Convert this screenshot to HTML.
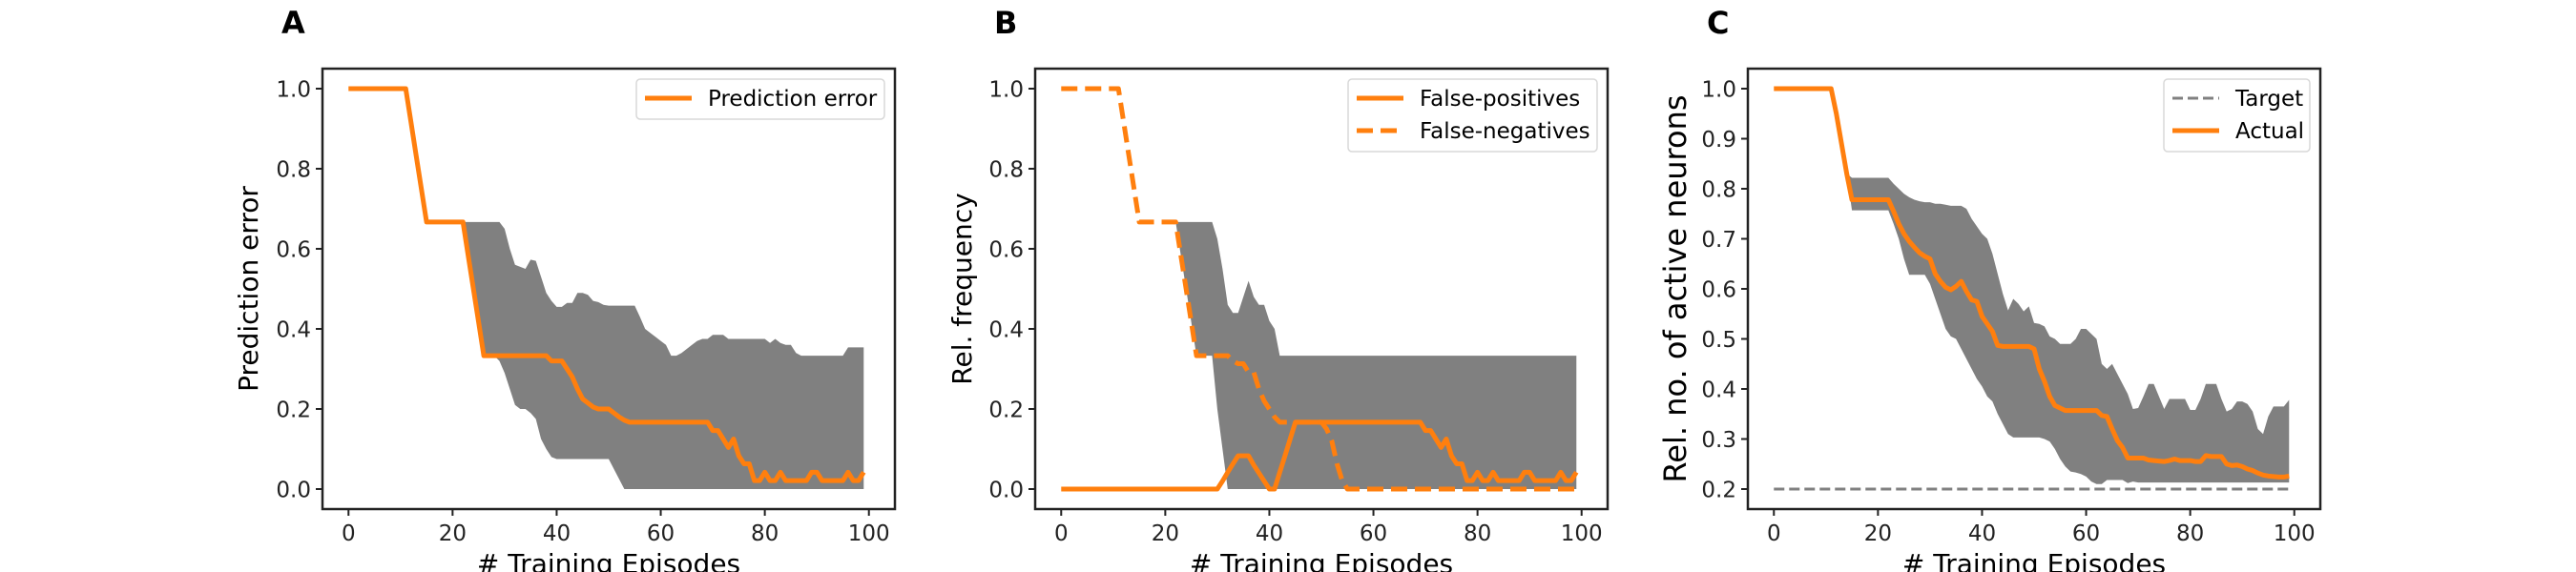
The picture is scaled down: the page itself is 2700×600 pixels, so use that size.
<!DOCTYPE html>
<html><head><meta charset="utf-8">
<style>
html,body{margin:0;padding:0;background:#fff;}
svg{display:block;font-family:"DejaVu Sans","Liberation Sans",sans-serif;}
</style></head>
<body>
<svg id="fig" width="2700" height="600" viewBox="0 0 2700 600" xmlns="http://www.w3.org/2000/svg"></svg>
<script>
const episodes = Array.from({length:100},(_,i)=>i);
const xTicks = [0,20,40,60,80,100];
const yTicksAB = [0.0,0.2,0.4,0.6,0.8,1.0];
const yTicksC = [0.2,0.3,0.4,0.5,0.6,0.7,0.8,0.9,1.0];

const predMean = [1,1,1,1,1,1,1,1,1,1,1,1,.917,.833,.75,.667,.667,.667,.667,.667,.667,.667,.667,.583,.5,.417,.333,.333,.333,.333,.333,.333,.333,.333,.333,.333,.333,.333,.333,.32,.32,.32,.30,.28,.25,.225,.215,.205,.2,.2,.2,.19,.18,.172,.167,.167,.167,.167,.167,.167,.167,.167,.167,.167,.167,.167,.167,.167,.167,.167,.146,.146,.125,.104,.125,.083,.063,.063,.021,.021,.042,.021,.021,.042,.021,.021,.021,.021,.021,.042,.042,.021,.021,.021,.021,.021,.042,.021,.021,.042];
const predUpper = [1,1,1,1,1,1,1,1,1,1,1,1,.917,.833,.75,.667,.667,.667,.667,.667,.667,.667,.667,.667,.667,.667,.667,.667,.667,.667,.65,.6,.56,.555,.55,.573,.57,.53,.49,.47,.455,.455,.465,.465,.49,.49,.485,.47,.467,.46,.458,.458,.458,.458,.458,.458,.43,.40,.39,.38,.37,.36,.333,.333,.34,.35,.36,.37,.375,.375,.385,.385,.385,.375,.375,.375,.375,.375,.375,.375,.375,.365,.375,.365,.36,.36,.34,.333,.333,.333,.333,.333,.333,.333,.333,.333,.354,.354,.354,.354];
const predLower = [1,1,1,1,1,1,1,1,1,1,1,1,.917,.833,.75,.667,.667,.667,.667,.667,.667,.667,.667,.583,.5,.417,.333,.333,.333,.32,.29,.25,.21,.2,.2,.19,.175,.125,.1,.08,.075,.075,.075,.075,.075,.075,.075,.075,.075,.075,.075,.05,.025,0,0,0,0,0,0,0,0,0,0,0,0,0,0,0,0,0,0,0,0,0,0,0,0,0,0,0,0,0,0,0,0,0,0,0,0,0,0,0,0,0,0,0,0,0,0,0];

const fpMean = [0,0,0,0,0,0,0,0,0,0,0,0,0,0,0,0,0,0,0,0,0,0,0,0,0,0,0,0,0,0,0,.02,.042,.063,.083,.083,.083,.06,.04,.02,0,0,.042,.083,.125,.167,.167,.167,.167,.167,.167,.167,.167,.167,.167,.167,.167,.167,.167,.167,.167,.167,.167,.167,.167,.167,.167,.167,.167,.167,.146,.146,.125,.104,.125,.083,.063,.063,.021,.021,.042,.021,.021,.042,.021,.021,.021,.021,.021,.042,.042,.021,.021,.021,.021,.021,.042,.021,.021,.042];
const fnMean = [1,1,1,1,1,1,1,1,1,1,1,1,.917,.833,.75,.667,.667,.667,.667,.667,.667,.667,.667,.583,.5,.417,.333,.333,.333,.333,.333,.333,.333,.32,.313,.313,.292,.292,.25,.22,.2,.18,.167,.167,.167,.167,.167,.167,.167,.167,.167,.15,.12,.063,.021,0,0,0,0,0,0,0,0,0,0,0,0,0,0,0,0,0,0,0,0,0,0,0,0,0,0,0,0,0,0,0,0,0,0,0,0,0,0,0,0,0,0,0,0,0];
const bandUpperB = [1,1,1,1,1,1,1,1,1,1,1,1,.917,.833,.75,.667,.667,.667,.667,.667,.667,.667,.667,.667,.667,.667,.667,.667,.667,.667,.625,.55,.46,.44,.44,.48,.52,.48,.46,.46,.42,.40,.333,.333,.333,.333,.333,.333,.333,.333,.333,.333,.333,.333,.333,.333,.333,.333,.333,.333,.333,.333,.333,.333,.333,.333,.333,.333,.333,.333,.333,.333,.333,.333,.333,.333,.333,.333,.333,.333,.333,.333,.333,.333,.333,.333,.333,.333,.333,.333,.333,.333,.333,.333,.333,.333,.333,.333,.333,.333];
const bandLowerB = [1,1,1,1,1,1,1,1,1,1,1,1,.917,.833,.75,.667,.667,.667,.667,.667,.667,.667,.667,.583,.5,.417,.333,.333,.333,.333,.2,.1,0,0,0,0,0,0,0,0,0,0,0,0,0,0,0,0,0,0,0,0,0,0,0,0,0,0,0,0,0,0,0,0,0,0,0,0,0,0,0,0,0,0,0,0,0,0,0,0,0,0,0,0,0,0,0,0,0,0,0,0,0,0,0,0,0,0,0,0];

const activeMean = [1,1,1,1,1,1,1,1,1,1,1,1,.95,.89,.83,.778,.778,.778,.778,.778,.778,.778,.778,.755,.73,.71,.695,.683,.672,.665,.66,.63,.615,.603,.598,.605,.615,.595,.578,.575,.545,.53,.515,.487,.485,.485,.485,.485,.485,.485,.48,.44,.415,.385,.367,.362,.357,.357,.357,.357,.357,.357,.357,.347,.345,.32,.297,.283,.262,.262,.262,.262,.258,.257,.256,.255,.257,.26,.257,.257,.257,.255,.255,.267,.265,.265,.265,.25,.247,.248,.245,.24,.237,.232,.228,.226,.225,.224,.224,.226];
const activeUpper = [1,1,1,1,1,1,1,1,1,1,1,1,.95,.89,.83,.822,.822,.822,.822,.822,.822,.822,.822,.81,.8,.79,.783,.778,.775,.773,.773,.77,.77,.768,.766,.766,.766,.76,.74,.725,.71,.7,.67,.63,.59,.557,.58,.57,.555,.565,.532,.53,.525,.505,.5,.49,.49,.49,.5,.52,.52,.51,.5,.45,.44,.45,.43,.41,.39,.36,.362,.385,.41,.41,.385,.36,.38,.38,.38,.38,.358,.358,.38,.41,.41,.41,.38,.355,.36,.375,.375,.37,.355,.32,.31,.345,.365,.365,.365,.378];
const activeLower = [1,1,1,1,1,1,1,1,1,1,1,1,.95,.89,.83,.757,.757,.757,.757,.757,.757,.757,.757,.73,.7,.66,.628,.628,.628,.628,.61,.58,.55,.52,.505,.5,.48,.46,.44,.42,.405,.385,.375,.35,.33,.31,.303,.303,.303,.303,.303,.303,.3,.295,.28,.26,.245,.235,.233,.23,.225,.215,.21,.21,.218,.218,.218,.218,.212,.215,.213,.213,.213,.213,.213,.213,.213,.213,.213,.213,.213,.213,.213,.213,.213,.213,.213,.213,.213,.213,.213,.213,.213,.213,.213,.213,.213,.213,.213,.213];
const targetLevel = [0.2];

const NS='http://www.w3.org/2000/svg';
const svg=document.getElementById('fig');
function mk(tag,attrs,parent){const e=document.createElementNS(NS,tag);for(const k in attrs)e.setAttribute(k,attrs[k]);(parent||svg).appendChild(e);return e;}
const ORANGE='#ff7f0e';

function panel(cfg){
  const g=mk('g',{});
  
  
  const L=cfg.left,R=cfg.left+600,T=72,B=534;
  const xs=v=>L+(v+5)/110*600;
  const ys=v=>B-(v-cfg.ymin)/(cfg.ymax-cfg.ymin)*(B-T);
  const lt=mk('text',{x:L-43,y:35,'font-size':32,'font-weight':'bold',fill:'#000'},g);lt.textContent=cfg.letter;
  
  
  cfg.bands.forEach(b=>{
    let d='M'+episodes.map(i=>xs(i)+','+ys(b.upper[i])).join(' L');
    d+=' L'+episodes.slice().reverse().map(i=>xs(i)+','+ys(b.lower[i])).join(' L')+' Z';
    const p=mk('path',{d:d,fill:'#808080',stroke:'none'},g);
    
    
  });
  cfg.lines.forEach(l=>{
    const vals=l.data.length===1?episodes.map(()=>l.data[0]):l.data;
    const pts=episodes.map(i=>xs(i)+','+ys(vals[i])).join(' ');
    const a={points:pts,fill:'none',stroke:l.color,'stroke-width':l.w,'stroke-linejoin':'round'};
    if(l.dash)a['stroke-dasharray']=l.dash;
    const p=mk('polyline',a,g);
    
    
  });
  const fr=mk('rect',{x:L,y:T,width:600,height:B-T,fill:'none',stroke:'#222','stroke-width':2.5},g);
  
  
  xTicks.forEach(t=>{
    mk('line',{x1:xs(t),x2:xs(t),y1:B,y2:B+7,stroke:'#222','stroke-width':2},g);
    const tx=mk('text',{x:xs(t),y:567,'font-size':23,'text-anchor':'middle',fill:'#222'},g);tx.textContent=t;
    
    
  });
  cfg.yticks.forEach(t=>{
    mk('line',{x1:L-7,x2:L,y1:ys(t),y2:ys(t),stroke:'#222','stroke-width':2},g);
    const tx=mk('text',{x:L-12,y:ys(t)+8.5,'font-size':23,'text-anchor':'end',fill:'#222'},g);tx.textContent=t.toFixed(1);
    
    
  });
  const xl=mk('text',{x:L+300,y:601,'font-size':28,'text-anchor':'middle',fill:'#000'},g);xl.textContent='# Training Episodes';
  
  
  const yl=mk('text',{x:0,y:0,'font-size':cfg.ylfs||28,'text-anchor':'middle',fill:'#000',transform:`translate(${cfg.ylx},303) rotate(-90)`},g);yl.textContent=cfg.ylabel;
  
  
  const lg=cfg.legend;
  const lb=mk('rect',{x:lg.x,y:83,width:lg.w,height:lg.items.length===1?42:76,rx:4,fill:'#fff','fill-opacity':0.8,stroke:'#d8d8d8','stroke-width':1.5},g);
  
  
  lg.items.forEach((it,k)=>{
    const yy=103+k*34;
    const a={x1:lg.x+9,x2:lg.x+58,y1:yy,y2:yy,stroke:it.color,'stroke-width':it.w};
    if(it.dash)a['stroke-dasharray']=it.dash;
    mk('line',a,g);
    const tx=mk('text',{x:lg.x+75,y:yy+8,'font-size':23,fill:'#000'},g);tx.textContent=it.label;
    
    
  });
}

panel({name:'panel-a',letter:'A',left:338,ymin:-0.05,ymax:1.05,yticks:yTicksAB,ylabel:'Prediction error',ylx:270,
  bands:[{upper:predUpper,lower:predLower}],
  lines:[{name:'prediction-error-line',data:predMean,color:ORANGE,w:5}],
  legend:{x:667,w:260,items:[{label:'Prediction error',color:ORANGE,w:5}]}});
panel({name:'panel-b',letter:'B',left:1085,ymin:-0.05,ymax:1.05,yticks:yTicksAB,ylabel:'Rel. frequency',ylx:1018,
  bands:[{upper:bandUpperB,lower:bandLowerB}],
  lines:[{name:'false-positives-line',data:fpMean,color:ORANGE,w:5},{name:'false-negatives-line',data:fnMean,color:ORANGE,w:5,dash:'17 8'}],
  legend:{x:1413,w:261,items:[{label:'False-positives',color:ORANGE,w:5},{label:'False-negatives',color:ORANGE,w:5,dash:'17 8'}]}});
panel({name:'panel-c',letter:'C',left:1832,ymin:0.16,ymax:1.04,yticks:yTicksC,ylabel:'Rel. no. of active neurons',ylx:1767,ylfs:32,
  bands:[{upper:activeUpper,lower:activeLower}],
  lines:[{name:'target-line',data:targetLevel,color:'#808080',w:3,dash:'11 5'},{name:'actual-line',data:activeMean,color:ORANGE,w:5}],
  legend:{x:2268,w:153,items:[{label:'Target',color:'#808080',w:3,dash:'11 5'},{label:'Actual',color:ORANGE,w:5}]}});
</script>
</body></html>
